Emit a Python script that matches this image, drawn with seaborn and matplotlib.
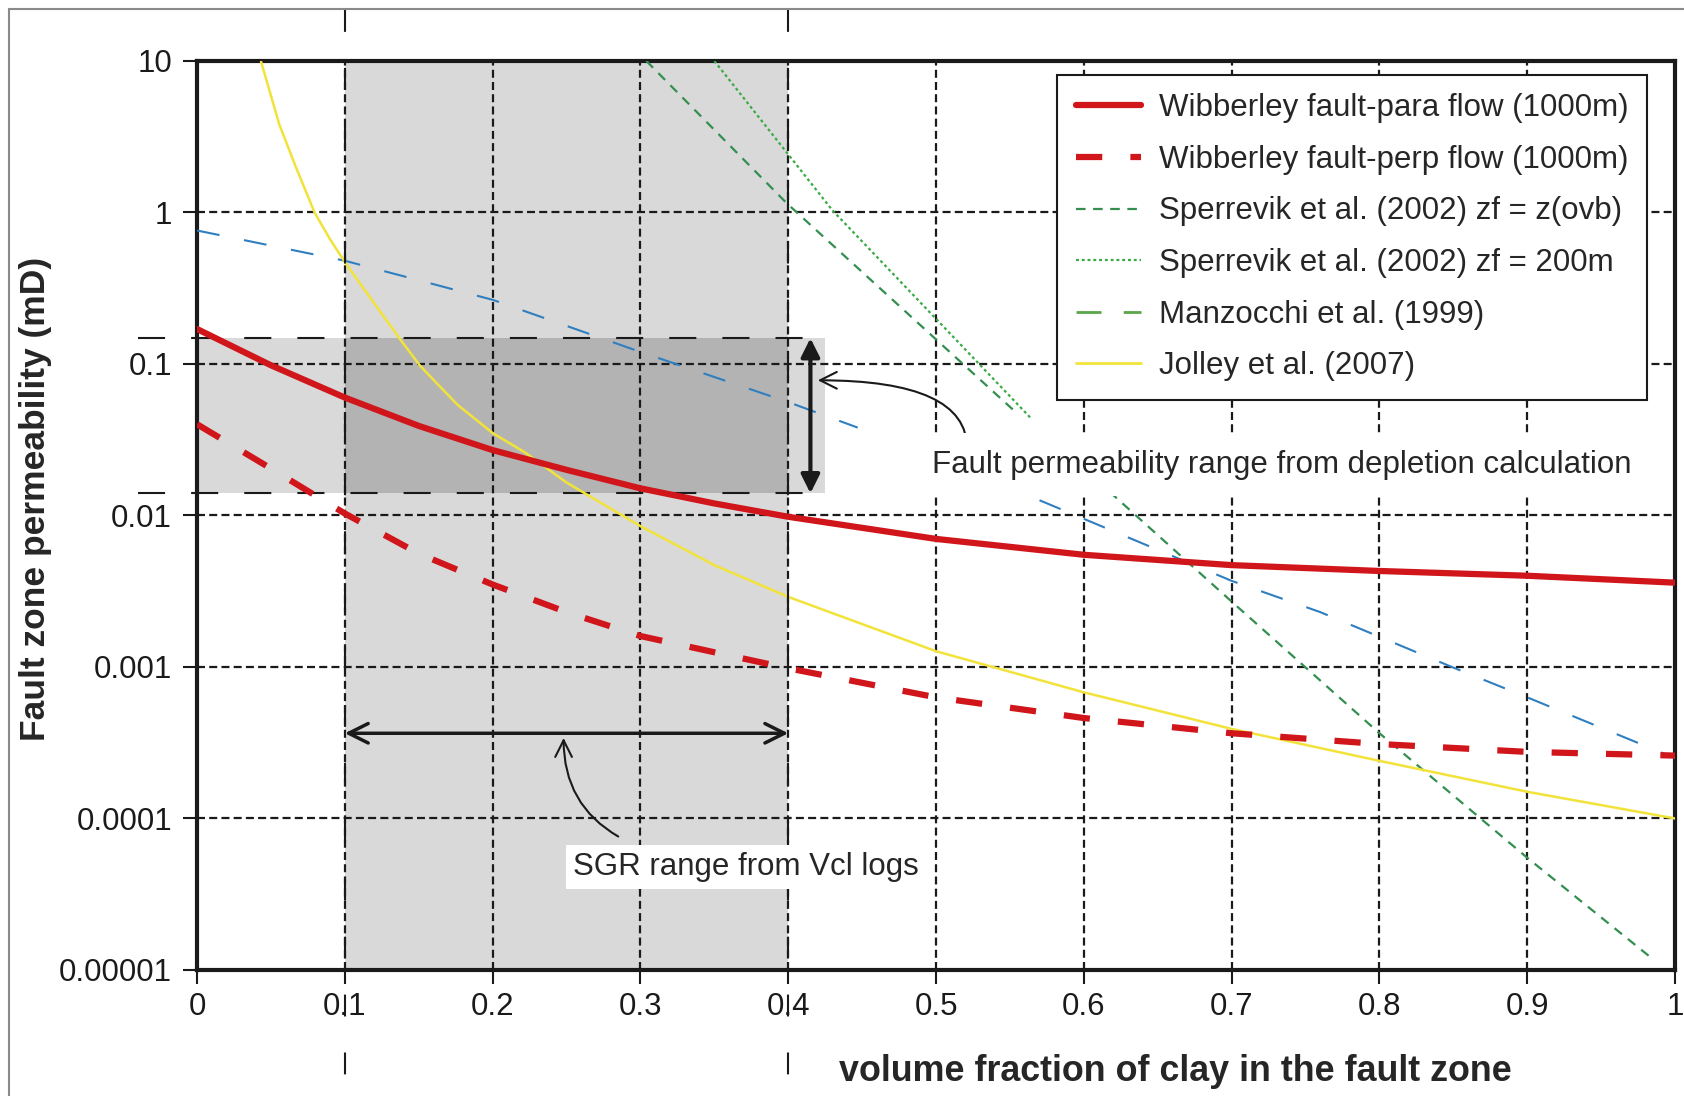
import matplotlib
matplotlib.use("Agg")
import matplotlib.pyplot as plt
import matplotlib.transforms as mtransforms
from matplotlib.lines import Line2D
from matplotlib.patches import Rectangle
from matplotlib.ticker import FixedLocator, NullLocator
import seaborn as sns

# values (x = volume fraction of clay, k in mD)
wib_x = [0, 0.05, 0.1, 0.15, 0.2, 0.25, 0.3, 0.35, 0.4, 0.5, 0.6, 0.7, 0.8, 0.9, 1.0]
wib_para_k = [0.17, 0.098, 0.060, 0.039, 0.027, 0.020, 0.0151, 0.012, 0.0098,
              0.0070, 0.0055, 0.0047, 0.0043, 0.0040, 0.0036]
wib_perp_k = [0.040, 0.0204, 0.0103, 0.0056, 0.0035, 0.0023, 0.0016, 0.00125, 0.00098,
              0.00063, 0.00046, 0.000365, 0.00031, 0.000275, 0.00026]

jolley_x = [0.0432, 0.0557, 0.067, 0.0795, 0.0898, 0.1, 0.117, 0.138, 0.151, 0.176,
            0.2, 0.222, 0.25, 0.3, 0.35, 0.4, 0.5, 0.6, 0.7, 0.8, 0.9, 1.0]
jolley_k = [10, 3.8, 1.98, 1.0, 0.67, 0.47, 0.275, 0.143, 0.097, 0.054,
            0.035, 0.026, 0.0165, 0.0085, 0.0047, 0.0029, 0.00127, 0.00068, 0.00039,
            0.00024, 0.00015, 0.0001]

manz_x_upper = [0, 0.1, 0.2, 0.3, 0.4, 0.447]
manz_k_upper = [0.76, 0.48, 0.265, 0.12, 0.056, 0.038]
manz_x_lower = [0.57, 0.6, 0.7, 0.76, 0.85, 0.9, 1.0]
manz_k_lower = [0.0126, 0.0095, 0.0037, 0.0023, 0.00099, 0.00063, 0.00025]

sperr_ovb_x_upper = [0.304, 0.399, 0.555]
sperr_ovb_k_upper = [10, 1.15, 0.047]
sperr_ovb_x_lower = [0.6175, 0.7, 0.8, 0.9, 0.984]
sperr_ovb_k_lower = [0.0143, 0.0027, 0.000365, 5.5e-5, 1.2e-5]
sperr_200_x = [0.350, 0.430, 0.564]
sperr_200_k = [10, 1.03, 0.044]

sgr_range = (0.1, 0.4)
perm_range = (0.014, 0.148)
sgr_arrow_k = 3.65e-4

x_ticks = [0, 0.1, 0.2, 0.3, 0.4, 0.5, 0.6, 0.7, 0.8, 0.9, 1.0]
x_ticklabels = ["0", "0.1", "0.2", "0.3", "0.4", "0.5", "0.6", "0.7", "0.8", "0.9", "1"]
y_ticks = [1e-5, 1e-4, 1e-3, 1e-2, 1e-1, 1, 10]
y_ticklabels = ["0.00001", "0.0001", "0.001", "0.01", "0.1", "1", "10"]

legend_labels = [
    "Wibberley fault-para flow (1000m)",
    "Wibberley fault-perp flow (1000m)",
    "Sperrevik et al. (2002) zf = z(ovb)",
    "Sperrevik et al. (2002) zf = 200m",
    "Manzocchi et al. (1999)",
    "Jolley et al. (2007)",
]

RED = "#d0161b"
YELLOW = "#f2e33a"
BLUE = "#2f7fc0"
GREEN_DASH = "#338f4f"
GREEN_DOT = "#3aaa45"
GREEN_MANZ = "#5aa64a"

sns.set_theme(style="white")
plt.rcParams["font.family"] = ["Liberation Sans", "DejaVu Sans"]
FS = 22.5

fig = plt.figure(figsize=(16.84, 10.96), dpi=100)
ax = fig.add_axes([0.117, 0.115, 0.8777, 0.8294])
ax.set_yscale("log")

# shaded SGR range and permeability range
lo, hi = perm_range
ax.axvspan(*sgr_range, color="#d9d9d9", lw=0, zorder=0.1)
ax.fill_between([0, 0.425], lo, hi, color="#d9d9d9", lw=0, zorder=0.1)
ax.fill_between(list(sgr_range), lo, hi, color="#b3b3b3", lw=0, zorder=0.2)
for k in perm_range:
    ax.plot([-0.04, 0.425], [k, k], color="k", lw=1.5, ls=(0, (13, 12.5)),
            clip_on=False, zorder=2.5)

# curves
line_kw = dict(ax=ax, estimator=None, legend=False, zorder=3)
sns.lineplot(x=manz_x_upper, y=manz_k_upper, color=BLUE, lw=1.5, ls=(0, (11, 12)), **line_kw)
sns.lineplot(x=manz_x_lower, y=manz_k_lower, color=BLUE, lw=1.5, ls=(0, (11, 12)), **line_kw)
sns.lineplot(x=sperr_ovb_x_upper, y=sperr_ovb_k_upper, color=GREEN_DASH, lw=1.6, ls=(0, (4.3, 3.4)), **line_kw)
sns.lineplot(x=sperr_ovb_x_lower, y=sperr_ovb_k_lower, color=GREEN_DASH, lw=1.6, ls=(0, (4.3, 3.4)), **line_kw)
sns.lineplot(x=sperr_200_x, y=sperr_200_k, color=GREEN_DOT, lw=1.6, ls=(0, (1.3, 1.3)), **line_kw)
sns.lineplot(x=jolley_x, y=jolley_k, color=YELLOW, lw=1.8, **line_kw)
sns.lineplot(x=wib_x, y=wib_perp_k, color=RED, lw=4.5, ls=(0, (4.2, 4.5)), **line_kw)
sns.lineplot(x=wib_x, y=wib_para_k, color=RED, lw=4.5, **line_kw)

ax.set_xlim(0, 1)
ax.set_ylim(1e-5, 10)
ax.xaxis.set_major_locator(FixedLocator(x_ticks))
ax.set_xticklabels(x_ticklabels)
ax.yaxis.set_major_locator(FixedLocator(y_ticks))
ax.yaxis.set_minor_locator(NullLocator())
ax.set_yticklabels(y_ticklabels)
ax.tick_params(axis="both", which="major", direction="out", length=10, width=1.5,
               labelsize=FS, colors="k", bottom=True, left=True)
ax.tick_params(axis="x", pad=6)
ax.tick_params(axis="y", pad=8)
ax.set_axisbelow(True)
ax.grid(True, which="major", color="k", lw=1.6, ls=(0, (3.6, 1.9)), zorder=0.5)
for sp in ax.spines.values():
    sp.set_linewidth(3)
    sp.set_color("k")

# long-dashed guides at the SGR limits, running across the whole figure
trans = mtransforms.blended_transform_factory(ax.transData, fig.transFigure)
for xv in sgr_range:
    ax.plot([xv, xv], [0.991, 0.0], transform=trans, color="k", lw=1.5,
            ls=(0, (10.5, 17.3)), clip_on=False, zorder=4)

# arrows and annotations
ax.annotate("", xy=(0.415, hi), xytext=(0.415, lo),
            arrowprops=dict(arrowstyle="<|-|>", color="k", lw=3, mutation_scale=28,
                            shrinkA=0, shrinkB=0), zorder=4)
ax.annotate("", xy=(sgr_range[0], sgr_arrow_k), xytext=(sgr_range[1], sgr_arrow_k),
            arrowprops=dict(arrowstyle="<->", color="k", lw=2.5, mutation_scale=35,
                            shrinkA=0, shrinkB=0), zorder=4)
ax.annotate("", xy=(0.420, 0.078), xytext=(0.521, 0.0278),
            arrowprops=dict(arrowstyle="->", color="k", lw=1.5, mutation_scale=30,
                            connectionstyle="angle3,angleA=90,angleB=0",
                            shrinkA=0, shrinkB=0), zorder=4)
ax.annotate("", xy=(0.248, 3.4e-4), xytext=(0.285, 7.6e-5),
            arrowprops=dict(arrowstyle="->", color="k", lw=1.5, mutation_scale=30,
                            connectionstyle="angle3,angleA=150,angleB=90",
                            shrinkA=0, shrinkB=0), zorder=4)

ax.text(0.497, 0.0216, "Fault permeability range from depletion calculation",
        fontsize=FS, ha="left", va="center", zorder=5,
        bbox=dict(fc="white", ec="none", pad=12))
ax.text(0.3715, 4.8e-5, "SGR range from Vcl logs", fontsize=FS, ha="center",
        va="center", zorder=5, bbox=dict(fc="white", ec="none", pad=5))

handles = [
    Line2D([], [], color=RED, lw=4.5),
    Line2D([], [], color=RED, lw=4.5, ls=(0, (4.2, 4.5))),
    Line2D([], [], color=GREEN_DASH, lw=1.6, ls=(0, (4.3, 3.4))),
    Line2D([], [], color=GREEN_DOT, lw=1.6, ls=(0, (1.3, 1.3))),
    Line2D([], [], color=GREEN_MANZ, lw=2, ls=(0, (9, 8))),
    Line2D([], [], color=YELLOW, lw=2),
]
leg = ax.legend(handles, legend_labels, loc="upper right", bbox_to_anchor=(0.981, 0.985),
                frameon=True, fancybox=False, edgecolor="k", framealpha=1,
                fontsize=FS, handlelength=2.1, handletextpad=0.55,
                labelspacing=0.69, borderpad=0.6, borderaxespad=0)
leg.get_frame().set_linewidth(1.5)
leg.set_zorder(10)

fig.text(0.0208, 0.5447, "Fault zone permeability (mD)", rotation=90, fontsize=25.5,
         fontweight="bold", ha="center", va="center")
fig.text(0.698, 0.0222, "volume fraction of clay in the fault zone", fontsize=25.8,
         fontweight="bold", ha="center", va="center")

fig.patches.append(Rectangle((9 / 1684, -0.1), 1.2, 1.1 - 9 / 1096, transform=fig.transFigure,
                             fill=False, edgecolor="#8a8a8a", lw=1.5, zorder=0))

fig.savefig("out.png", dpi=100)
